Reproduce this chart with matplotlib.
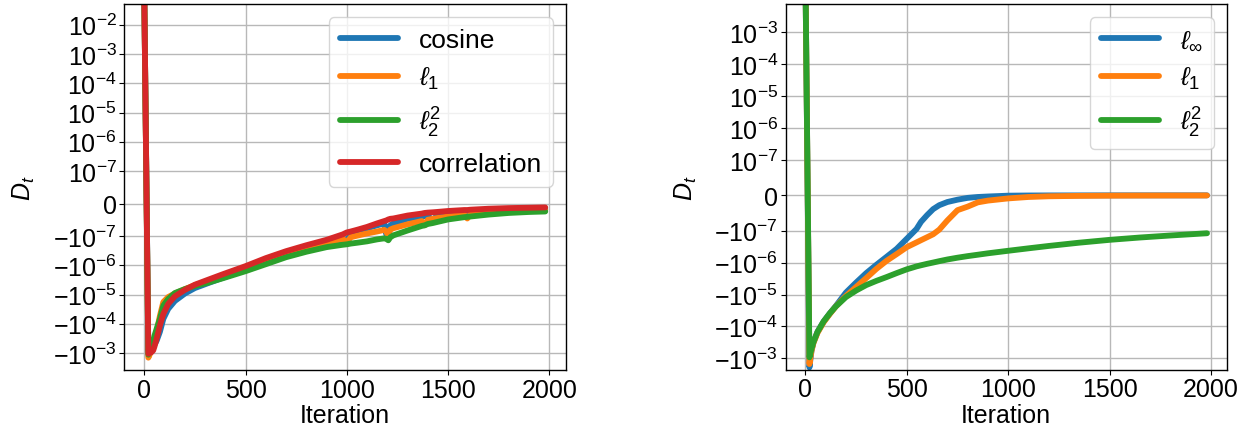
import numpy as np
import matplotlib
matplotlib.use("Agg")
import matplotlib.pyplot as plt
from matplotlib.ticker import FixedLocator, NullLocator

plt.rcParams["font.family"] = ["Liberation Sans", "DejaVu Sans"]
plt.rcParams["mathtext.fontset"] = "custom"
plt.rcParams["mathtext.rm"] = "Liberation Sans"
plt.rcParams["mathtext.it"] = "Liberation Sans:italic"
plt.rcParams["mathtext.bf"] = "Liberation Sans:bold"

# ---------------- left panel: distance functions ----------------
iters_left = [0, 20, 35, 44, 50, 61, 77, 94, 118, 151, 201, 250, 316, 390,
              500, 600, 700, 800, 900, 980, 1000, 1020, 1050, 1100, 1150,
              1185, 1195, 1205, 1215, 1230, 1300, 1370, 1385, 1400, 1425,
              1445, 1500, 1580, 1595, 1610, 1700, 1800, 1900, 1980]

cosine_vals = [1e-1, -8.4e-4, -4.1e-4, -4.8e-4, -5.2e-4, -3.8e-4, -1.89e-4,
               -6.8e-5, -3.1e-5, -1.66e-5, -9.2e-6, -6.0e-6, -4.06e-6,
               -2.64e-6, -1.41e-6, -7.5e-7, -4.4e-7, -2.73e-7, -1.77e-7,
               -1.35e-7, -1.3e-7, -0.98e-7, -0.83e-7, -0.76e-7, -0.67e-7,
               -0.61e-7, -0.95e-7, -0.8e-7, -0.67e-7, -0.61e-7, -0.47e-7,
               -0.4e-7, -0.39e-7, -0.38e-7, -0.52e-7, -0.37e-7, -0.32e-7,
               -0.28e-7, -0.34e-7, -0.27e-7, -0.23e-7, -0.2e-7, -0.18e-7,
               -0.17e-7]

l1_vals = [1e-1, -1.44e-3, -8.4e-4, -4.8e-4, -3.26e-4, -1.89e-4, -5.4e-5,
           -1.8e-5, -1.22e-5, -9.2e-6, -6.5e-6, -4.75e-6, -3.47e-6, -2.26e-6,
           -1.25e-6, -6.98e-7, -4.03e-7, -2.52e-7, -1.7e-7, -1.25e-7,
           -1.64e-7, -1.1e-7, -0.99e-7, -0.92e-7, -0.86e-7, -0.81e-7,
           -0.86e-7, -1.02e-7, -0.8e-7, -0.76e-7, -0.64e-7, -0.54e-7,
           -0.67e-7, -0.5e-7, -0.47e-7, -0.45e-7, -0.4e-7, -0.35e-7,
           -0.46e-7, -0.34e-7, -0.29e-7, -0.24e-7, -0.21e-7, -0.2e-7]

l2sq_vals = [1e-1, -1.14e-3, -7.1e-4, -4.1e-4, -2.6e-4, -1.49e-4, -6.8e-5,
             -2.4e-5, -1.42e-5, -8.9e-6, -6.5e-6, -5.1e-6, -3.9e-6,
             -2.75e-6, -1.59e-6, -9.2e-7, -5.3e-7, -3.45e-7, -2.4e-7,
             -1.99e-7, -1.92e-7, -1.81e-7, -1.7e-7, -1.52e-7, -1.3e-7,
             -1.2e-7, -1.25e-7, -1.4e-7, -1.1e-7, -0.98e-7, -0.83e-7,
             -0.69e-7, -0.67e-7, -0.63e-7, -0.6e-7, -0.57e-7, -0.49e-7,
             -0.42e-7, -0.41e-7, -0.4e-7, -0.34e-7, -0.29e-7, -0.26e-7,
             -0.245e-7]

corr_vals = [1e-1, -1.06e-3, -9.4e-4, -8.16e-4, -6.1e-4, -3.26e-4, -1.15e-4,
             -4.6e-5, -2.1e-5, -1.15e-5, -6.9e-6, -4.6e-6, -3.1e-6, -2.0e-6,
             -1.07e-6, -5.7e-7, -3.3e-7, -2.07e-7, -1.35e-7, -0.95e-7,
             -0.89e-7, -0.86e-7, -0.81e-7, -0.72e-7, -0.61e-7, -0.54e-7,
             -0.52e-7, -0.49e-7, -0.47e-7, -0.46e-7, -0.37e-7, -0.31e-7,
             -0.29e-7, -0.28e-7, -0.27e-7, -0.26e-7, -0.23e-7, -0.2e-7,
             -0.2e-7, -0.19e-7, -0.16e-7, -0.14e-7, -0.13e-7, -0.12e-7]

left_labels = ["cosine", r"$\ell_1$", r"$\ell_2^2$", "correlation"]

# ---------------- right panel: norms ----------------
iters_right = [0, 20, 30, 40, 60, 90, 120, 150, 200, 250, 300, 350, 400, 450,
               500, 530, 548, 570, 600, 630, 660, 700, 750, 800, 850, 900,
               1000, 1100, 1200, 1350, 1500, 1650, 1800, 1980]

linf_vals = [1e-1, -1.93e-3, -5.9e-4, -3.05e-4, -1.47e-4, -6.98e-5, -3.92e-5,
             -2.29e-5, -8.66e-6, -4.22e-6, -2.13e-6, -1.17e-6, -6.6e-7,
             -3.7e-7, -1.78e-7, -1.15e-7, -0.95e-7, -0.75e-7, -0.56e-7,
             -0.39e-7, -0.28e-7, -0.19e-7, -0.124e-7, -0.073e-7, -0.048e-7,
             -0.034e-7, -0.011e-7, -0.006e-7, -0.004e-7, -0.003e-7,
             -0.002e-7, -0.002e-7, -0.002e-7, -0.002e-7]

l1r_vals = [1e-1, -1.51e-3, -5.9e-4, -3.3e-4, -1.58e-4, -7.4e-5, -4.1e-5,
            -2.37e-5, -1.11e-5, -5.8e-6, -3.05e-6, -1.57e-6, -8.8e-7,
            -5.4e-7, -3.27e-7, -2.64e-7, -2.32e-7, -1.98e-7, -1.6e-7,
            -1.29e-7, -0.97e-7, -0.71e-7, -0.42e-7, -0.32e-7, -0.2e-7,
            -0.15e-7, -0.088e-7, -0.048e-7, -0.028e-7, -0.017e-7,
            -0.011e-7, -0.008e-7, -0.006e-7, -0.005e-7]

l2sqr_vals = [1e-1, -9.3e-4, -5.1e-4, -3.1e-4, -1.47e-4, -6.98e-5, -3.92e-5,
              -2.37e-5, -1.2e-5, -7.5e-6, -5.05e-6, -3.73e-6, -2.84e-6,
              -2.13e-6, -1.62e-6, -1.42e-6, -1.31e-6, -1.21e-6, -1.09e-6,
              -9.93e-7, -9.0e-7, -7.96e-7, -7.0e-7, -6.25e-7, -5.65e-7,
              -5.1e-7, -4.25e-7, -3.56e-7, -3.0e-7, -2.37e-7, -1.93e-7,
              -1.63e-7, -1.41e-7, -1.2e-7]

right_labels = [r"$\ell_\infty$", r"$\ell_1$", r"$\ell_2^2$"]

colors = ["#1f77b4", "#ff7f0e", "#2ca02c", "#d62728"]

left_ticks = [-1e-3, -1e-4, -1e-5, -1e-6, -1e-7, 0, 1e-7, 1e-6, 1e-5, 1e-4,
              1e-3, 1e-2]
right_ticks = [-1e-3, -1e-4, -1e-5, -1e-6, -1e-7, 0, 1e-7, 1e-6, 1e-5, 1e-4,
               1e-3]

W, H = 1247, 431
fig = plt.figure(figsize=(W / 100, H / 100), dpi=100)
ax1 = fig.add_axes([124.3 / W, 1 - 371 / H, (565.7 - 124.3) / W,
                    (371 - 5.3) / H])
ax2 = fig.add_axes([785.7 / W, 1 - 370.7 / H, (1226.7 - 785.7) / W,
                    (370.7 - 5.3) / H])

FS = 18


def style(ax, ticks, ylim, xlim):
    ax.set_yscale("symlog", linthresh=1e-7, linscale=1.0)
    ax.set_ylim(*ylim)
    ax.set_xlim(*xlim)
    ax.yaxis.set_major_locator(FixedLocator(ticks))
    ax.yaxis.set_minor_locator(NullLocator())
    ax.set_xticks([0, 500, 1000, 1500, 2000])
    ax.grid(True, color="#b8b8b8", linewidth=1.0)
    ax.set_axisbelow(True)
    ax.tick_params(labelsize=FS, pad=2)
    for sp in ax.spines.values():
        sp.set_linewidth(1.0)
    ax.set_xlabel("Iteration", fontsize=FS, labelpad=1)
    ax.set_ylabel(r"$D_t$", fontsize=FS, labelpad=11)


series_left = [cosine_vals, l1_vals, l2sq_vals, corr_vals]
for vals, lab, c in zip(series_left, left_labels, colors):
    ax1.plot(iters_left, vals, color=c, lw=4.2, label=lab,
             solid_joinstyle="round", solid_capstyle="round")
style(ax1, left_ticks, (-3.8e-3, 5e-2), (-98.7, 2081))
ax1.legend(loc="upper right", fontsize=19, handlelength=2.2)

series_right = [linf_vals, l1r_vals, l2sqr_vals]
for vals, lab, c in zip(series_right, right_labels, colors):
    ax2.plot(iters_right, vals, color=c, lw=4.2, label=lab,
             solid_joinstyle="round", solid_capstyle="round")
style(ax2, right_ticks, (-2.27e-3, 7.5e-3), (-97, 2077))
ax2.legend(loc="upper right", fontsize=19, handlelength=2.2)

fig.savefig("out.png", dpi=100)
